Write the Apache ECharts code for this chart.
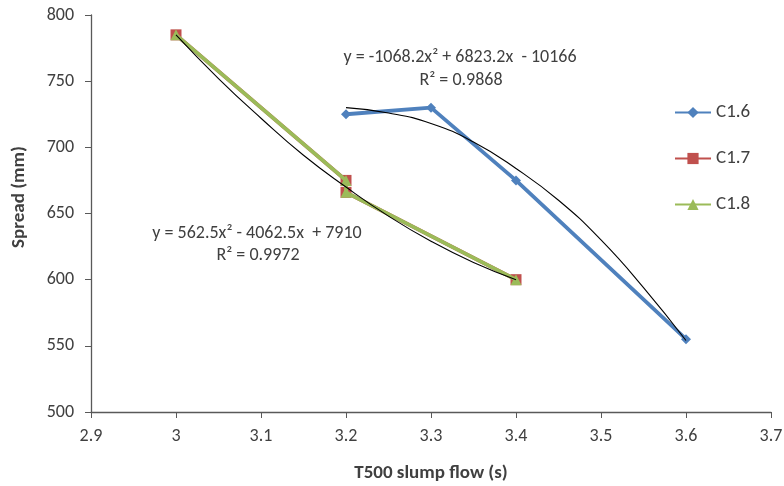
<!DOCTYPE html>
<html><head><meta charset="utf-8">
<script src="https://cdn.jsdelivr.net/npm/echarts@6/dist/echarts.min.js"></script>
<style>html,body{margin:0;padding:0;background:#fff}#c{width:784px;height:486px}</style>
</head><body><div id="c"></div>
<script>
const xTicks = [2.9, 3.7, 0.1];
const yTicks = [500, 800, 50];
const c16 = [[3.2, 725], [3.3, 730], [3.4, 675], [3.6, 555]];
const c17 = [[3.0, 785], [3.2, 675], [3.2, 666], [3.4, 600]];
const c18 = [[3.0, 785], [3.2, 675], [3.2, 666], [3.4, 600]];
const trendA = [[3.2, 730], [3.25, 726], [3.3, 718], [3.35, 704], [3.4, 684], [3.45, 660], [3.5, 630], [3.55, 594], [3.6, 554]];
const trendB = [[3.0, 785], [3.05, 752], [3.1, 722], [3.15, 694], [3.2, 670], [3.25, 648], [3.3, 629], [3.35, 613], [3.4, 600]];
const eqA = ['y = -1068.2x² + 6823.2x  - 10166', 'R² = 0.9868'];
const eqB = ['y = 562.5x² - 4062.5x  + 7910', 'R² = 0.9972'];
const xTitle = 'T500 slump flow (s)';
const yTitle = 'Spread (mm)';

const font = 'Calibri, Carlito, "Open Sans", "Liberation Sans", sans-serif';
const txt = '#404040';
const chart = echarts.init(document.getElementById('c'));
chart.setOption({
  animation: false,
  backgroundColor: '#fff',
  grid: { left: 91, right: 13, top: 15, bottom: 74, containLabel: false, outerBoundsMode: 'none' },
  xAxis: {
    type: 'value', min: xTicks[0], max: xTicks[1], interval: xTicks[2],
    name: xTitle, nameLocation: 'middle', nameGap: 52,
    nameTextStyle: { fontWeight: 'bold', fontSize: 19, color: txt, fontFamily: font },
    axisLine: { lineStyle: { color: '#595959', width: 1.3 } },
    axisTick: { show: true, length: 6, lineStyle: { color: '#595959' } },
    axisLabel: { fontSize: 18, color: txt, margin: 15, fontFamily: font,
      formatter: v => String(Math.round(v * 10) / 10) },
    splitLine: { show: false }
  },
  yAxis: {
    type: 'value', min: yTicks[0], max: yTicks[1], interval: yTicks[2],
    axisLine: { show: true, lineStyle: { color: '#595959', width: 1.3 } },
    axisTick: { show: true, length: 6, lineStyle: { color: '#595959' } },
    axisLabel: { fontSize: 18, color: txt, margin: 17, fontFamily: font },
    splitLine: { show: false }
  },
  legend: {
    orient: 'vertical', left: 669, top: 98, itemWidth: 36, itemHeight: 14, itemGap: 27,
    textStyle: { fontSize: 19, color: txt, fontFamily: font },
    data: ['C1.6', 'C1.7', 'C1.8']
  },
  series: [
    { name: 'C1.6', type: 'line', data: c16, symbol: 'diamond', symbolSize: 10,
      lineStyle: { color: '#4F81BD', width: 3.8 }, itemStyle: { color: '#4F81BD' }, z: 2 },
    { name: 'C1.7', type: 'line', data: c17, symbol: 'rect', symbolSize: 11,
      lineStyle: { color: '#C0504D', width: 3.8 }, itemStyle: { color: '#C0504D' }, z: 3 },
    { name: 'C1.8', type: 'line', data: c18, symbol: 'triangle', symbolSize: 11,
      lineStyle: { color: '#9BBB59', width: 3.8 }, itemStyle: { color: '#9BBB59' }, z: 4 },
    { name: 'trendA', type: 'line', data: trendA, smooth: true, showSymbol: false, symbol: 'none',
      lineStyle: { color: '#000', width: 1.1 }, z: 5, silent: true },
    { name: 'trendB', type: 'line', data: trendB, smooth: true, showSymbol: false, symbol: 'none',
      lineStyle: { color: '#000', width: 1.1 }, z: 5, silent: true }
  ],
  graphic: [
    { type: 'text', x: 460, y: 57, style: { text: eqA[0], fill: txt, font: '18px ' + font, textAlign: 'center', textVerticalAlign: 'middle' } },
    { type: 'text', x: 461, y: 80, style: { text: eqA[1], fill: txt, font: '18px ' + font, textAlign: 'center', textVerticalAlign: 'middle' } },
    { type: 'text', x: 257, y: 233, style: { text: eqB[0], fill: txt, font: '18px ' + font, textAlign: 'center', textVerticalAlign: 'middle' } },
    { type: 'text', x: 258, y: 255, style: { text: eqB[1], fill: txt, font: '18px ' + font, textAlign: 'center', textVerticalAlign: 'middle' } },
    { type: 'text', x: 19, y: 197, rotation: Math.PI / 2, style: { text: yTitle, fill: txt, font: 'bold 19px ' + font, textAlign: 'center', textVerticalAlign: 'middle' } }
  ]
});
</script></body></html>
